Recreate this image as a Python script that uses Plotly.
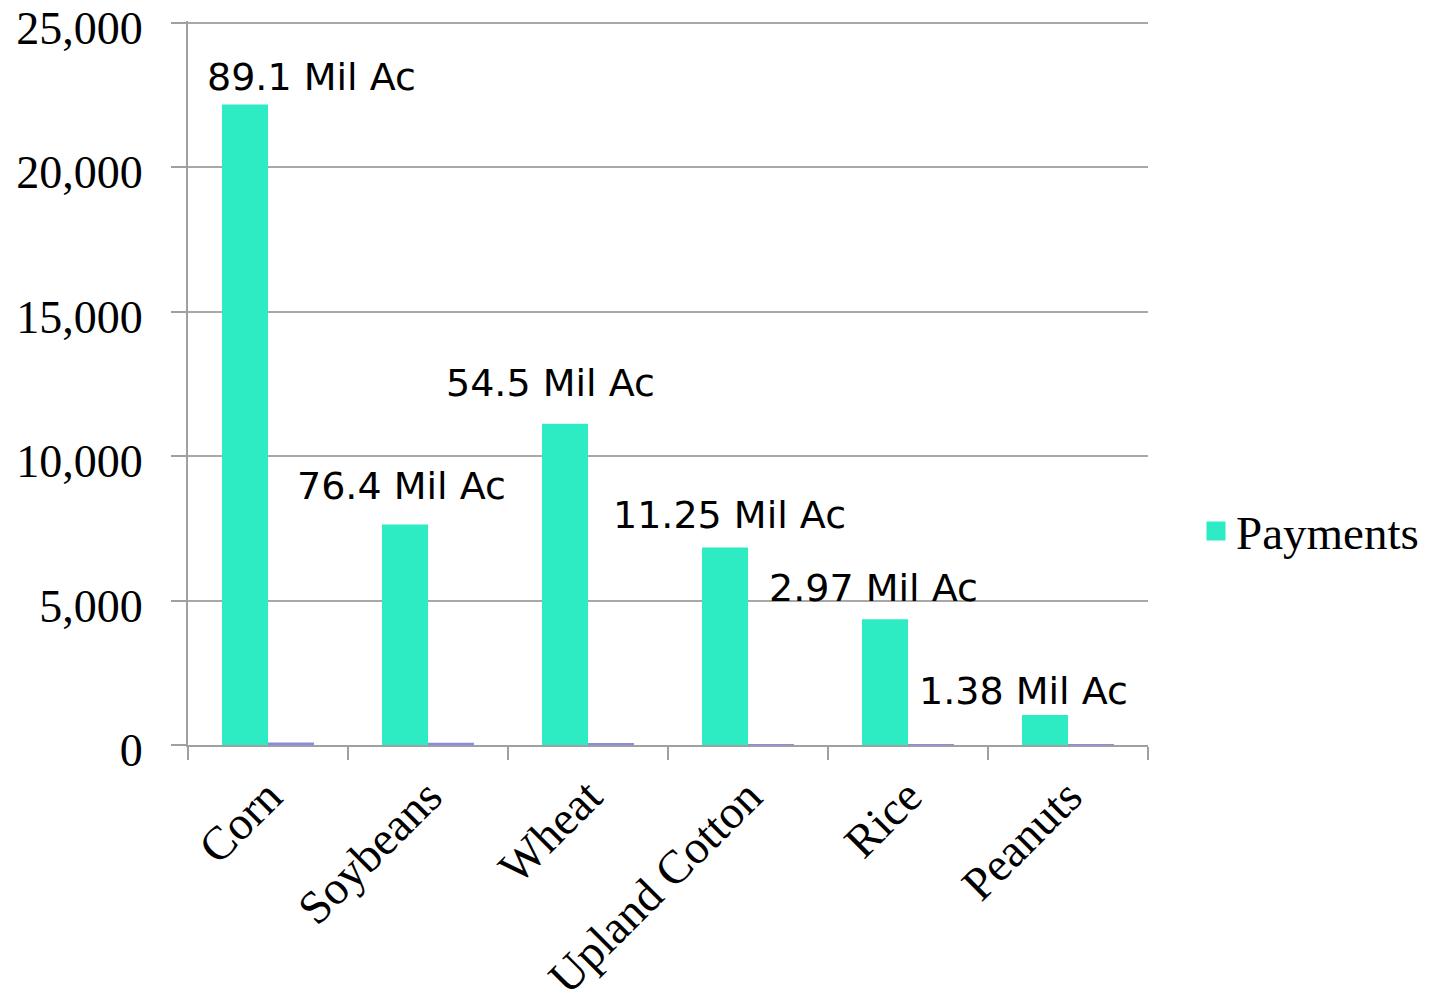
import plotly.graph_objects as go

categories = ["Corn", "Soybeans", "Wheat", "Upland Cotton", "Rice", "Peanuts"]
payments = [22170, 7630, 11120, 6840, 4350, 1040]
acres_mil = [89.1, 76.4, 54.5, 11.25, 2.97, 1.38]
acre_labels = ["89.1 Mil Ac", "76.4 Mil Ac", "54.5 Mil Ac", "11.25 Mil Ac", "2.97 Mil Ac", "1.38 Mil Ac"]
y_ticks = [0, 5000, 10000, 15000, 20000, 25000]

# label pixel offsets (style)
label_xshift = [43, -27, -38, -19, -35, -45]
label_yshift = [27, 39, 41, 32, 31, 24]

SERIF = "Liberation Serif, Times New Roman, serif"
SANS = "DejaVu Sans, Verdana, sans-serif"
PAY_COLOR = "#2debc2"

fig = go.Figure()
fig.add_trace(go.Bar(
    x=categories, y=payments, name="Payments", showlegend=False,
    marker=dict(color=PAY_COLOR, line=dict(width=0)),
    hoverinfo="skip",
))
fig.add_trace(go.Bar(
    x=categories, y=acres_mil, name="Acres", showlegend=False,
    marker=dict(color="#8a8ae6", line=dict(width=0)),
    hoverinfo="skip",
))
# legend entry with a larger square swatch
fig.add_trace(go.Scatter(
    x=[None], y=[None], mode="markers", name="Payments", showlegend=True,
    marker=dict(symbol="square", size=16, color=PAY_COLOR, line=dict(color=PAY_COLOR, width=3)),
    hoverinfo="skip",
))

for c, v, t, dx, dy in zip(categories, payments, acre_labels, label_xshift, label_yshift):
    fig.add_annotation(
        x=c, y=v, text=t, showarrow=False, xref="x", yref="y",
        xanchor="center", yanchor="middle", xshift=dx, yshift=dy,
        font=dict(family=SANS, size=38, color="black"),
    )

fig.update_layout(
    width=1436, height=1003,
    margin=dict(l=188, r=288, t=21, b=258, autoexpand=False),
    paper_bgcolor="white", plot_bgcolor="white",
    barmode="group", bargap=0.425, bargroupgap=0,
    showlegend=True,
    legend=dict(
        x=1.05, y=0.295, xanchor="left", yanchor="middle",
        font=dict(family=SERIF, size=47, color="black"),
        itemsizing="trace",
    ),
)
fig.update_xaxes(
    type="category", automargin=False,
    showgrid=False,
    showline=True, linecolor="#a0a0a0", linewidth=2,
    ticks="outside", tickson="boundaries", ticklen=13, tickcolor="#a0a0a0", tickwidth=2,
    tickangle=-45, ticklabelstandoff=3,
    tickfont=dict(family=SERIF, size=47, color="black"),
)
fig.update_yaxes(
    range=[0, 25060], automargin=False,
    tickvals=y_ticks, tickformat=",d",
    showgrid=True, gridcolor="#a8a8a8", gridwidth=2,
    showline=True, linecolor="#a0a0a0", linewidth=2,
    ticks="outside", ticklen=15, tickcolor="#a0a0a0", tickwidth=2,
    ticklabelstandoff=19, ticklabeloverflow="allow", ticklabelshift=5,
    tickfont=dict(family=SERIF, size=46, color="black"),
    zeroline=False,
)

fig.write_html(
    "out.html",
    config={"displayModeBar": False},
    post_script="document.body.style.margin='0px';",
)
